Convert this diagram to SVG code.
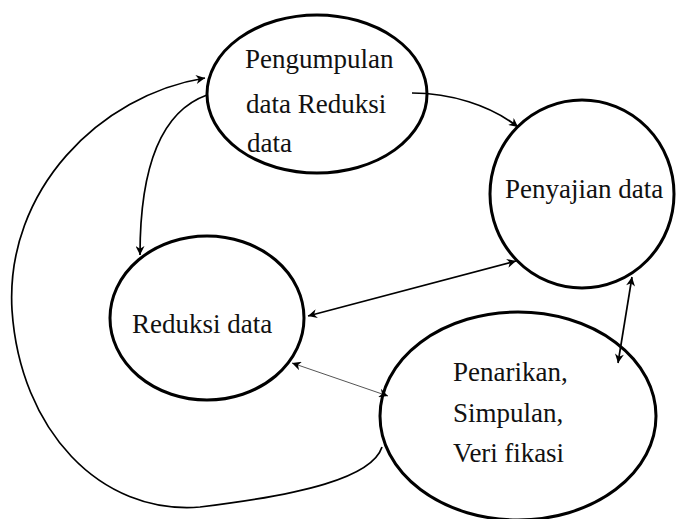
<svg xmlns="http://www.w3.org/2000/svg" width="677" height="519" viewBox="0 0 677 519">
<style>
.node{fill:#fff;stroke:#000;stroke-width:3}
.lbl{font-family:'Liberation Serif','Times New Roman','DejaVu Serif',serif;font-size:27px;fill:#111}
.con{fill:none;stroke:#000;stroke-width:1.7}
.thin{fill:none;stroke:#555;stroke-width:1}
</style>
<defs>
<marker id="ah" viewBox="0 0 10 10" refX="10" refY="5" markerWidth="11" markerHeight="9" markerUnits="userSpaceOnUse" orient="auto-start-reverse">
<path d="M0,0 L10,5 L0,10 L3,5 z" fill="#000"/>
</marker>
</defs>
<rect width="677" height="519" fill="#fff"/>
<g id="n-pengumpulan">
<ellipse class="node" cx="317" cy="94" rx="110" ry="79"/>
<text class="lbl" x="245" y="68">Pengumpulan</text>
<text class="lbl" x="246" y="113">data Reduksi</text>
<text class="lbl" x="247" y="152">data</text>
</g>
<g id="n-penyajian">
<ellipse class="node" cx="582" cy="194" rx="92" ry="94"/>
<text class="lbl" x="505" y="198">Penyajian data</text>
</g>
<g id="n-reduksi">
<ellipse class="node" cx="207" cy="318" rx="97" ry="82"/>
<text class="lbl" x="132" y="333">Reduksi data</text>
</g>
<g id="n-penarikan">
<ellipse class="node" cx="518" cy="416" rx="138" ry="104"/>
<text class="lbl" x="453" y="381">Penarikan,</text>
<text class="lbl" x="453" y="422">Simpulan,</text>
<text class="lbl" x="453" y="462" textLength="111">Veri fikasi</text>
</g>
<g id="connectors">
<path class="con" d="M412,93 C450,93 490,105 518,127" marker-end="url(#ah)"/>
<path class="con" d="M207,95 C165,110 140,160 140,255" marker-end="url(#ah)"/>
<path class="con" d="M382,447 C372,478 300,495 200,507 C100,515 20,430 12,310 C5,190 100,95 205,78" marker-end="url(#ah)"/>
<path class="con" d="M308,316 L516,261" marker-start="url(#ah)" marker-end="url(#ah)"/>
<path class="thin" d="M292,363 L388,396" marker-start="url(#ah)" marker-end="url(#ah)"/>
<path class="con" d="M632,277 L618,363" marker-start="url(#ah)" marker-end="url(#ah)"/>
</g>
</svg>
